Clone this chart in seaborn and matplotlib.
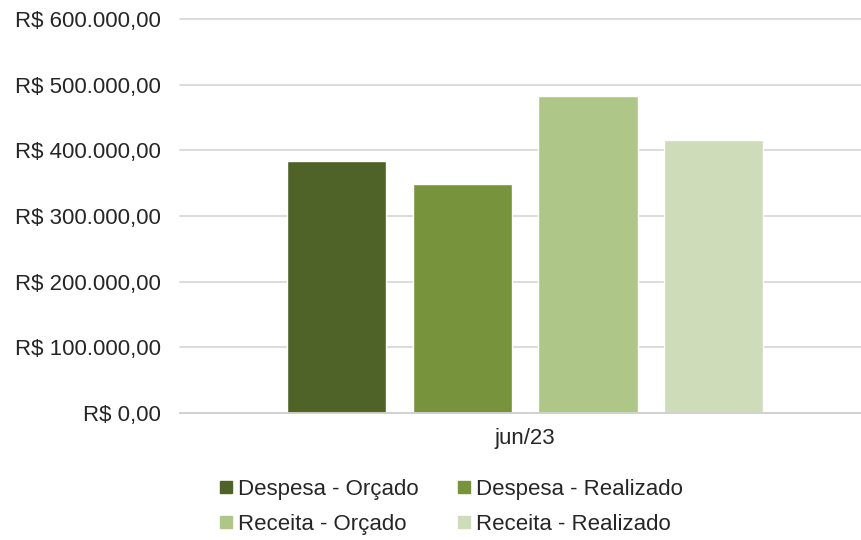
import matplotlib
matplotlib.use("Agg")
import matplotlib.pyplot as plt
from matplotlib.lines import Line2D
from matplotlib.ticker import FuncFormatter, MultipleLocator
import pandas as pd
import seaborn as sns

# -------------------- dados --------------------
meses = ["jun/23"]
series = ["Despesa - Orçado", "Despesa - Realizado", "Receita - Orçado", "Receita - Realizado"]
valores = [383000, 349000, 482000, 416000]
cores = ["#4f6228", "#77933c", "#aec789", "#cfdcb9"]

sns.set_style("white")
plt.rcParams["font.family"] = ["Liberation Sans", "DejaVu Sans"]


def fmt_real(v, pos=None):
    s = f"{v:,.2f}".replace(",", "X").replace(".", ",").replace("X", ".")
    return f"R$ {s}"


def main():
    df = pd.DataFrame({"mes": meses * len(series), "serie": series, "valor": valores})

    fig = plt.figure(figsize=(8.62, 5.40), dpi=100)
    ax = fig.add_axes([0.2088, 0.2352, 0.7912, 0.7296])

    sns.barplot(
        data=df, x="mes", y="valor", hue="serie", hue_order=series,
        palette=cores, width=0.8, gap=0.21, saturation=1, legend=False, ax=ax,
    )

    ax.set_ylim(0, 600000)
    ax.set_xlim(-0.549, 0.536)
    ax.yaxis.set_major_locator(MultipleLocator(100000))
    ax.yaxis.set_major_formatter(FuncFormatter(fmt_real))
    ax.grid(axis="y", color="#d9d9d9", linewidth=1.3)
    for gl in ax.get_ygridlines():
        gl.set_clip_on(False)
    ax.set_axisbelow(True)
    for side in ["top", "right", "left"]:
        ax.spines[side].set_visible(False)
    ax.spines["bottom"].set_color("#d0d0d0")
    ax.spines["bottom"].set_linewidth(1.3)
    ax.tick_params(axis="y", length=0, pad=14, labelsize=16, labelcolor="#262626")
    ax.tick_params(axis="x", length=0, pad=11, labelsize=16, labelcolor="#262626")
    ax.set_xlabel("")
    ax.set_ylabel("")

    # legenda em 2 colunas, ordem por linha
    handles = [Line2D([], [], marker="s", linestyle="none", markersize=8.5,
                      markerfacecolor=c, markeredgecolor=c) for c in cores]
    ordem = [0, 2, 1, 3]
    fig.legend(
        [handles[i] for i in ordem], [series[i] for i in ordem],
        ncol=2, loc="center", bbox_to_anchor=(451 / 862, 1 - 507 / 540),
        frameon=False, fontsize=16, handlelength=0.6, handletextpad=0.25,
        columnspacing=1.75, labelspacing=0.62, borderpad=0, labelcolor="#262626",
    )

    fig.savefig("out.png", dpi=100, facecolor="white")
    plt.close(fig)


if __name__ == "__main__":
    main()
